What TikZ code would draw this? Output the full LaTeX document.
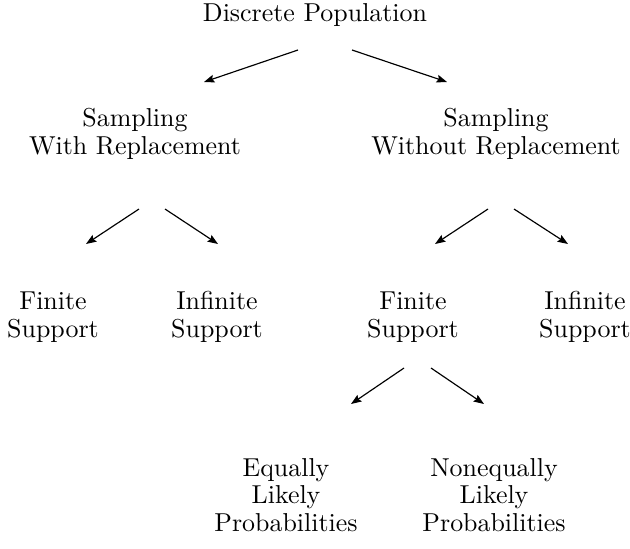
\documentclass[tikz,border=0pt]{standalone}
\usetikzlibrary{arrows.meta}
\begin{document}
\begin{tikzpicture}[x=0.386pt,y=-0.386pt,
  lbl/.style={align=center,inner sep=0pt,font=\fontsize{10}{10.6}\selectfont},
  conn/.style={line width=0.45pt,-{Stealth[length=4pt,width=3pt,inset=0.6pt]}}]
\useasboundingbox (0,0) rectangle (630,548);
\node[lbl] (dp) at (315,15) {Discrete Population};
\node[lbl] (swr) at (135,134) {Sampling\\With Replacement};
\node[lbl] (swor) at (496,134) {Sampling\\Without Replacement};
\node[lbl] (fs1) at (53,317) {Finite\\Support};
\node[lbl] (is1) at (217,317) {Infinite\\Support};
\node[lbl] (fs2) at (413,317) {Finite\\Support};
\node[lbl] (is2) at (585,317) {Infinite\\Support};
\node[lbl] (elp) at (286,495) {Equally\\Likely\\Probabilities};
\node[lbl] (nlp) at (494,495) {Nonequally\\Likely\\Probabilities};
% connector end points
\coordinate (a1s) at (298,50); \coordinate (a1e) at (204,82);
\coordinate (a2s) at (352,50); \coordinate (a2e) at (447,82);
\coordinate (b1s) at (139,209); \coordinate (b1e) at (86,244);
\coordinate (b2s) at (165,209); \coordinate (b2e) at (218,244);
\coordinate (c1s) at (488,209); \coordinate (c1e) at (435,244);
\coordinate (c2s) at (514,209); \coordinate (c2e) at (568,244);
\coordinate (d1s) at (404,368); \coordinate (d1e) at (351,404);
\coordinate (d2s) at (431,368); \coordinate (d2e) at (484,404);
\draw[conn] (a1s) -- (a1e);
\draw[conn] (a2s) -- (a2e);
\draw[conn] (b1s) -- (b1e);
\draw[conn] (b2s) -- (b2e);
\draw[conn] (c1s) -- (c1e);
\draw[conn] (c2s) -- (c2e);
\draw[conn] (d1s) -- (d1e);
\draw[conn] (d2s) -- (d2e);
\end{tikzpicture}
\end{document}
